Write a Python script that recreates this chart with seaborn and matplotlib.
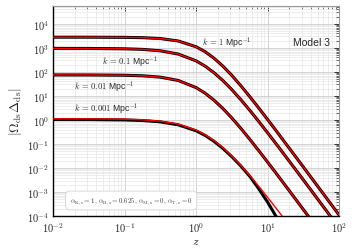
import numpy as np
import pandas as pd
import matplotlib
matplotlib.use("Agg")
import matplotlib.pyplot as plt
from matplotlib.ticker import LogLocator, FuncFormatter, NullFormatter
import seaborn as sns

# ---- data (y given as log10 values) ----
z = [0.01, 0.03162, 0.1, 0.1778, 0.3162, 0.5623, 1.0, 1.334, 1.778, 2.371,
     3.162, 4.217, 5.623, 7.499, 10.0, 13.34, 17.78, 31.62, 56.23, 100.0]

log_k1 = [3.446, 3.445, 3.439, 3.426, 3.389, 3.288, 3.047, 2.842, 2.571, 2.239,
          1.853, 1.426, 0.972, 0.501, 0.018, -0.472, -0.967, -1.960, -2.959, -3.957]
log_k01 = [2.980, 2.977, 2.963, 2.939, 2.879, 2.743, 2.460, 2.242, 1.967, 1.638,
           1.261, 0.846, 0.404, -0.059, -0.534, -1.018, -1.508, -2.497, -3.493, -4.491]
log_k001 = [1.875, 1.873, 1.861, 1.839, 1.782, 1.644, 1.347, 1.115, 0.823, 0.475,
            0.081, -0.348, -0.803, -1.273, -1.755, -2.243, -2.736, -3.729, -4.727, -5.725]
log_k0001_black = [0.019, 0.017, 0.002, -0.023, -0.079, -0.202, -0.451, -0.643, -0.888, -1.185,
                   -1.532, -1.915, -2.345, -2.860, -3.420, -4.050, -4.700, -5.900, -7.000, -8.100]
log_k0001_red = [0.049, 0.047, 0.032, 0.007, -0.049, -0.172, -0.421, -0.613, -0.858, -1.155,
                 -1.502, -1.890, -2.311, -2.757, -3.221, -3.697, -4.180, -5.163, -6.155, -7.150]

black_series = [log_k1, log_k01, log_k001, log_k0001_black]
red_series = [log_k1, log_k01, log_k001, log_k0001_red]

labels = [r"$k\,=\,1$ Mpc$^{-1}$", r"$k\,=\,0.1$ Mpc$^{-1}$",
          r"$k\,=\,0.01$ Mpc$^{-1}$", r"$k\,=\,0.001$ Mpc$^{-1}$"]
label_pos = [(0.521, 0.829), (0.171, 0.738), (0.073, 0.619), (0.073, 0.514)]

sns.set_theme(style="white")
plt.rcParams["font.family"] = ["Liberation Sans", "DejaVu Sans"]
plt.rcParams["mathtext.fontset"] = "cm"

fig = plt.figure(figsize=(3.54, 2.53), dpi=100)
ax = fig.add_axes([0.150, 0.142, 0.808, 0.830])

for s in black_series:
    df = pd.DataFrame({"z": z, "y": 10 ** np.array(s)})
    sns.lineplot(data=df, x="z", y="y", color="black", lw=2.2, ax=ax,
                 estimator=None, sort=False, zorder=3)
for s in red_series:
    df = pd.DataFrame({"z": z, "y": 10 ** np.array(s)})
    sns.lineplot(data=df, x="z", y="y", color="#ff0000", lw=1.0, ax=ax,
                 estimator=None, sort=False, zorder=4)

ax.set_xscale("log")
ax.set_yscale("log")
ax.set_xlim(1e-2, 1e2)
ax.set_ylim(1e-4, 5.5e4)

ax.xaxis.set_major_locator(LogLocator(base=10, numticks=20))
ax.xaxis.set_minor_locator(LogLocator(base=10, subs=np.arange(2, 10), numticks=100))
ax.yaxis.set_major_locator(LogLocator(base=10, numticks=20))
ax.yaxis.set_minor_locator(LogLocator(base=10, subs=np.arange(2, 10), numticks=100))
fmt = FuncFormatter(lambda v, p: r"$10^{%d}$" % int(round(np.log10(v))))
ax.xaxis.set_major_formatter(fmt)
ax.yaxis.set_major_formatter(fmt)
ax.xaxis.set_minor_formatter(NullFormatter())
ax.yaxis.set_minor_formatter(NullFormatter())

ax.set_axisbelow(True)
ax.grid(which="major", color="0.80", lw=0.6)
ax.grid(which="minor", color="0.90", lw=0.5)

ax.tick_params(which="both", direction="in", top=True, right=True,
               color="0.2", labelsize=7.5, pad=3)
ax.tick_params(which="major", length=3.5, width=0.7)
ax.tick_params(which="minor", length=2, width=0.5)

for side in ["left", "bottom"]:
    ax.spines[side].set_color("black")
    ax.spines[side].set_linewidth(1.0)
for side in ["top", "right"]:
    ax.spines[side].set_color("0.6")
    ax.spines[side].set_linewidth(0.8)

ax.set_xlabel(r"$z$", fontsize=8.5, labelpad=1)
ax.set_ylabel(r"$|\Omega_{\rm ds}\Delta_{\rm ds}|$", fontsize=9.5, labelpad=2)

for lab, (px, py) in zip(labels, label_pos):
    ax.text(px, py, lab, transform=ax.transAxes, fontsize=6.2, ha="left", va="center",
            zorder=5)
ax.text(0.969, 0.829, "Model 3", transform=ax.transAxes, fontsize=7.5,
        ha="right", va="center", zorder=5)

ax.text(0.273, 0.074,
        r"$\alpha_{\rm K,s}=1,\,\alpha_{\rm B,s}=0.625,\,\alpha_{\rm M,s}=0,\,\alpha_{\rm T,s}=0$",
        transform=ax.transAxes, fontsize=5, ha="center", va="center", color="0.25",
        bbox=dict(boxstyle="round,pad=0.6", fc="white", ec="0.85", lw=0.7), zorder=6)

fig.savefig("out.png", dpi=100)
